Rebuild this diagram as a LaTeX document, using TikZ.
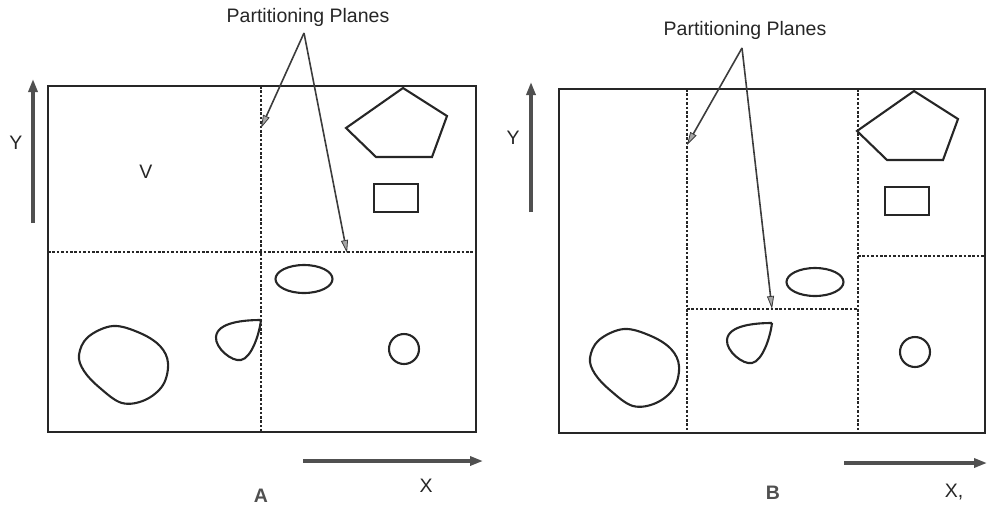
\documentclass[tikz,border=0pt]{standalone}
\usepackage{fontspec}
\setmainfont{Liberation Sans}
\usetikzlibrary{arrows.meta}
\definecolor{ink}{HTML}{262626}
\definecolor{axisgray}{HTML}{505050}
\tikzset{
  frame/.style={draw=ink, line width=2.3pt},
  plane/.style={draw=ink, line width=2.2pt, dash pattern=on 2.6pt off 1.8pt},
  object/.style={draw=ink, line width=2.1pt},
  pointer/.style={draw=ink!90, line width=1.6pt,
    -{Triangle[length=13pt,width=7pt,fill=gray!70,line width=0.8pt]}},
  axis/.style={draw=axisgray, line width=3.2pt,
    -{Triangle[length=13pt,width=9pt,fill=axisgray]}},
  lbl/.style={font=\fontsize{19.5}{22}\selectfont, text=ink, inner sep=0pt},
  tag/.style={lbl, font=\fontsize{19.5}{22}\selectfont\bfseries, text=axisgray},
}
% the scene objects, positioned for the left panel
\newcommand\sceneobjects{%
  \draw[object] (403,88) -- (447,116) -- (432,157) -- (376,157) -- (346,128) -- cycle;
  \draw[object] (374,184) rectangle (418,212);
  \draw[object] (304,279) ellipse [x radius=28.5, y radius=14];
  \draw[object] (404,349) circle [radius=15];
  \draw[object] plot[smooth cycle, tension=0.6] coordinates {
    (113,326) (140,333) (160,346) (168,363) (163,385) (145,400)
    (122,403) (100,388) (84,371) (79,355) (88,337)};
  \draw[object] (261,320) .. controls (245,320) and (217,322) .. (216,337)
    .. controls (215,348) and (232,362) .. (241,360)
    .. controls (251,358) and (259,336) .. (261,320);
}
\begin{document}
\begin{tikzpicture}[x=1pt,y=-1pt]
\useasboundingbox (0,0) rectangle (987,507);

% ---------- panel A ----------
\draw[frame] (48,86) rectangle (476,432);
\sceneobjects
\draw[plane] (261,86) -- (261,432);
\draw[plane] (48,252) -- (476,252);

\node[lbl] (titleA) at (308,17) {Partitioning Planes};
\coordinate (apexA) at (304,33);
\coordinate (planeA1) at (261,128);
\coordinate (planeA2) at (347,253);
\draw[pointer] (apexA) -- (planeA1);
\draw[pointer] (apexA) -- (planeA2);

\coordinate (yA0) at (33,223);
\coordinate (yA1) at (33,79);
\draw[axis] (yA0) -- (yA1);
\node[lbl] (ylabA) at (16,143) {Y};
\node[lbl] (v) at (146,172) {V};
\coordinate (xA0) at (303,461);
\coordinate (xA1) at (483,461);
\draw[axis] (xA0) -- (xA1);
\node[lbl] (xlabA) at (426,486) {X};
\node[tag] (tagA) at (261,496) {A};

% ---------- panel B ----------
\draw[frame] (559,89) rectangle (985,433);
\begin{scope}[shift={(511,3)}]
  \sceneobjects
\end{scope}
\draw[plane] (687,89) -- (687,433);
\draw[plane] (858,89) -- (858,433);
\draw[plane] (687,309) -- (858,309);
\draw[plane] (858,256) -- (985,256);

\node[lbl] (titleB) at (745,30) {Partitioning Planes};
\coordinate (apexB) at (742,48);
\coordinate (planeB1) at (687,145);
\coordinate (planeB2) at (772,309);
\draw[pointer] (apexB) -- (planeB1);
\draw[pointer] (apexB) -- (planeB2);

\coordinate (yB0) at (531,212);
\coordinate (yB1) at (531,82);
\draw[axis] (yB0) -- (yB1);
\node[lbl] (ylabB) at (513,138) {Y};
\coordinate (xB0) at (844,463);
\coordinate (xB1) at (987,463);
\draw[axis] (xB0) -- (xB1);
\node[lbl] (xlabB) at (954,492) {X,};
\node[tag] (tagB) at (773,493) {B};
\end{tikzpicture}
\end{document}
